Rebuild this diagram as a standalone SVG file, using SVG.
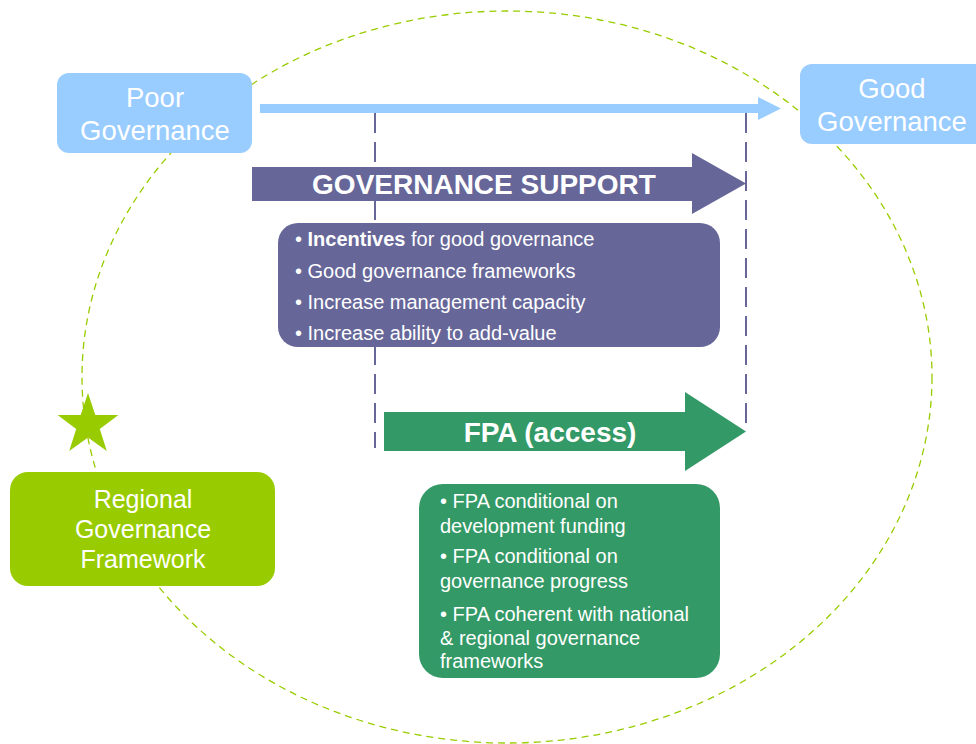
<svg xmlns="http://www.w3.org/2000/svg" width="976" height="744" viewBox="0 0 976 744">
<style>
text{font-family:"Liberation Sans",Arial,sans-serif;fill:#fff}
.big{font-size:27.5px;text-anchor:middle}
.reg{font-size:25px;text-anchor:middle}
.hd{font-size:28px;font-weight:bold;text-anchor:middle}
.li{font-size:20px}
.vd{stroke:#666699;stroke-width:2;stroke-dasharray:20 9;fill:none}
</style>
<rect width="976" height="744" fill="#fff"/>
<ellipse cx="507" cy="377" rx="425" ry="366" fill="none" stroke="#99CC00" stroke-width="1.3" stroke-dasharray="7 5"/>
<g id="connectors">
<line class="vd" x1="375" y1="113" x2="375" y2="448"/>
<line class="vd" x1="746" y1="113" x2="746" y2="431"/>
<path d="M260 104H758V97L781 108.5L758 120V113H260Z" fill="#99CCFF"/>
</g>
<g id="poor">
<rect x="57" y="73" width="195" height="80" rx="12" fill="#99CCFF"/>
<text class="big" x="155" y="107">Poor</text>
<text class="big" x="155" y="140">Governance</text>
</g>
<g id="good">
<rect x="800" y="64" width="190" height="80" rx="12" fill="#99CCFF"/>
<text class="big" x="892" y="98">Good</text>
<text class="big" x="892" y="131">Governance</text>
</g>
<g id="gov-support">
<path d="M252 167H692V153L746 183.5L692 214V201H252Z" fill="#666699"/>
<text class="hd" x="484" y="194">GOVERNANCE SUPPORT</text>
</g>
<g id="gov-list">
<rect x="278" y="223" width="442" height="124" rx="20" fill="#666699"/>
<text class="li" x="295" y="246">• <tspan font-weight="bold">Incentives</tspan> for good governance</text>
<text class="li" x="295" y="278">• Good governance frameworks</text>
<text class="li" x="295" y="309">• Increase management capacity</text>
<text class="li" x="295" y="340">• Increase ability to add-value</text>
</g>
<g id="fpa">
<path d="M384 412H685V392L746 431.5L685 471V451H384Z" fill="#339966"/>
<text class="hd" x="550" y="442">FPA (access)</text>
</g>
<g id="fpa-list">
<rect x="419" y="484" width="301" height="194" rx="24" fill="#339966"/>
<text class="li" x="440" y="508">• FPA conditional on</text>
<text class="li" x="440" y="533">development funding</text>
<text class="li" x="440" y="563">• FPA conditional on</text>
<text class="li" x="440" y="588">governance progress</text>
<text class="li" x="440" y="621">• FPA coherent with national</text>
<text class="li" x="440" y="645">&amp; regional governance</text>
<text class="li" x="440" y="668">frameworks</text>
</g>
<g id="star">
<polygon fill="#99CC00" points="88,393 95.3,414.9 118.4,415.1 99.8,428.9 106.8,450.9 88,437.5 69.2,450.9 76.2,428.9 57.6,415.1 80.7,414.9"/>
</g>
<g id="regional">
<rect x="10" y="472" width="265" height="114" rx="18" fill="#99CC00"/>
<text class="reg" x="143" y="508">Regional</text>
<text class="reg" x="143" y="538">Governance</text>
<text class="reg" x="143" y="568">Framework</text>
</g>
</svg>
